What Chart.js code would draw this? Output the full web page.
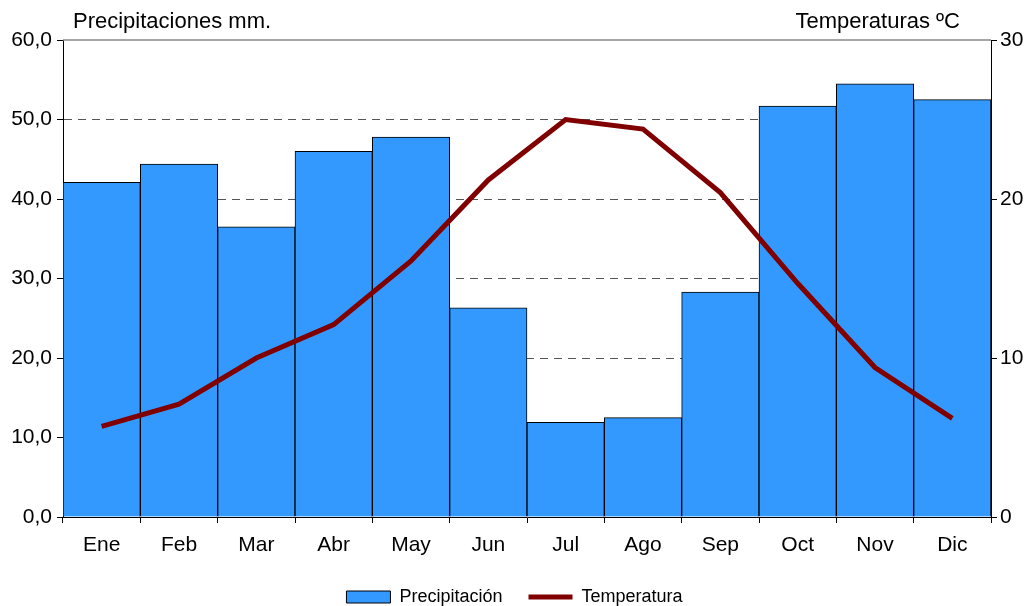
<!DOCTYPE html>
<html>
<head>
<meta charset="utf-8">
<script src="https://cdn.jsdelivr.net/npm/chart.js@4"></script>
<style>
  body { margin: 0; background: #fff; }
  #wrap { width: 1029px; height: 606px; position: relative; }
</style>
</head>
<body>
<div id="wrap"><canvas id="climograma"></canvas></div>
<script>
// datos del climograma
const meses = ['Ene', 'Feb', 'Mar', 'Abr', 'May', 'Jun', 'Jul', 'Ago', 'Sep', 'Oct', 'Nov', 'Dic'];
const precipitacion = [42.1, 44.4, 36.5, 46.0, 47.8, 26.3, 11.9, 12.5, 28.3, 51.7, 54.5, 52.5];
const temperatura = [5.7, 7.1, 10.0, 12.1, 16.1, 21.2, 25.0, 24.4, 20.4, 14.7, 9.4, 6.2];
const ticksPrec = [0, 10, 20, 30, 40, 50, 60];
const ticksTemp = [0, 10, 20, 30];

const fuente = { family: 'Liberation Sans, Arial, sans-serif', size: 21 };

// titulos de los ejes arriba del grafico
const titulos = {
  id: 'titulos',
  afterDraw(chart) {
    const ctx = chart.ctx;
    const area = chart.chartArea;
    ctx.save();
    ctx.font = '22px Liberation Sans, Arial, sans-serif';
    ctx.fillStyle = '#000';
    ctx.textBaseline = 'middle';
    ctx.textAlign = 'left';
    ctx.fillText('Precipitaciones mm.', area.left + 10, 22);
    ctx.textAlign = 'right';
    ctx.fillText('Temperaturas ºC', area.right - 31, 22);
    ctx.restore();
  },
  beforeDatasetsDraw(chart) {
    // linea superior gris (60,0)
    const ctx = chart.ctx;
    const area = chart.chartArea;
    ctx.save();
    ctx.strokeStyle = '#888';
    ctx.lineWidth = 1.5;
    ctx.beginPath();
    ctx.moveTo(area.left, area.top);
    ctx.lineTo(area.right, area.top);
    ctx.stroke();
    ctx.restore();
  }
};

new Chart(document.getElementById('climograma'), {
  type: 'bar',
  data: {
    labels: meses,
    datasets: [{
      type: 'bar',
      label: 'Precipitación',
      data: precipitacion,
      backgroundColor: '#3399FF',
      borderColor: '#000',
      borderWidth: 1,
      barPercentage: 1,
      categoryPercentage: 1,
      yAxisID: 'yPrec',
      pointStyle: 'rect',
      order: 2
    }, {
      type: 'line',
      label: 'Temperatura',
      data: temperatura,
      borderColor: '#800000',
      backgroundColor: '#800000',
      borderWidth: 5,
      pointRadius: 0,
      tension: 0,
      yAxisID: 'yTemp',
      pointStyle: 'line',
      order: 1
    }]
  },
  options: {
    responsive: true,
    maintainAspectRatio: false,
    animation: false,
    layout: { padding: { top: 40, left: 0, right: 0, bottom: -10 } },
    plugins: {
      tooltip: { enabled: false },
      legend: {
        position: 'bottom',
        labels: {
          color: '#000',
          font: { family: 'Liberation Sans, Arial, sans-serif', size: 18 },
          usePointStyle: true,
          pointStyleWidth: 44,
          boxWidth: 44,
          boxHeight: 12,
          padding: 26,
          sort: (a, b) => a.datasetIndex - b.datasetIndex
        }
      }
    },
    scales: {
      x: {
        grid: { offset: true, drawOnChartArea: false, color: '#000', tickLength: 6 },
        border: { color: '#000', width: 1 },
        ticks: { color: '#000', font: fuente, padding: 10 },
        afterFit(scale) { scale.height = 45; }
      },
      yPrec: {
        position: 'left',
        min: 0,
        max: 60,
        afterBuildTicks(scale) { scale.ticks = ticksPrec.map(v => ({ value: v })); },
        ticks: {
          color: '#000',
          font: fuente,
          padding: 5,
          callback: v => v.toFixed(1).replace('.', ',')
        },
        grid: {
          color: ctx => (ctx.tick && (ctx.tick.value === 0 || ctx.tick.value === 60)) ? 'rgba(0,0,0,0)' : '#555',
          lineWidth: 1,
          tickColor: '#000',
          tickLength: 6
        },
        border: { color: '#000', width: 1, dash: [8, 6] },
        afterFit(scale) { scale.width = 63; }
      },
      yTemp: {
        position: 'right',
        min: 0,
        max: 30,
        afterBuildTicks(scale) { scale.ticks = ticksTemp.map(v => ({ value: v })); },
        ticks: { color: '#000', font: fuente, padding: 3 },
        grid: { drawOnChartArea: false, color: '#000', tickLength: 6 },
        border: { color: '#000', width: 1 },
        afterFit(scale) { scale.width = 38; }
      }
    }
  },
  plugins: [titulos]
});
</script>
</body>
</html>
